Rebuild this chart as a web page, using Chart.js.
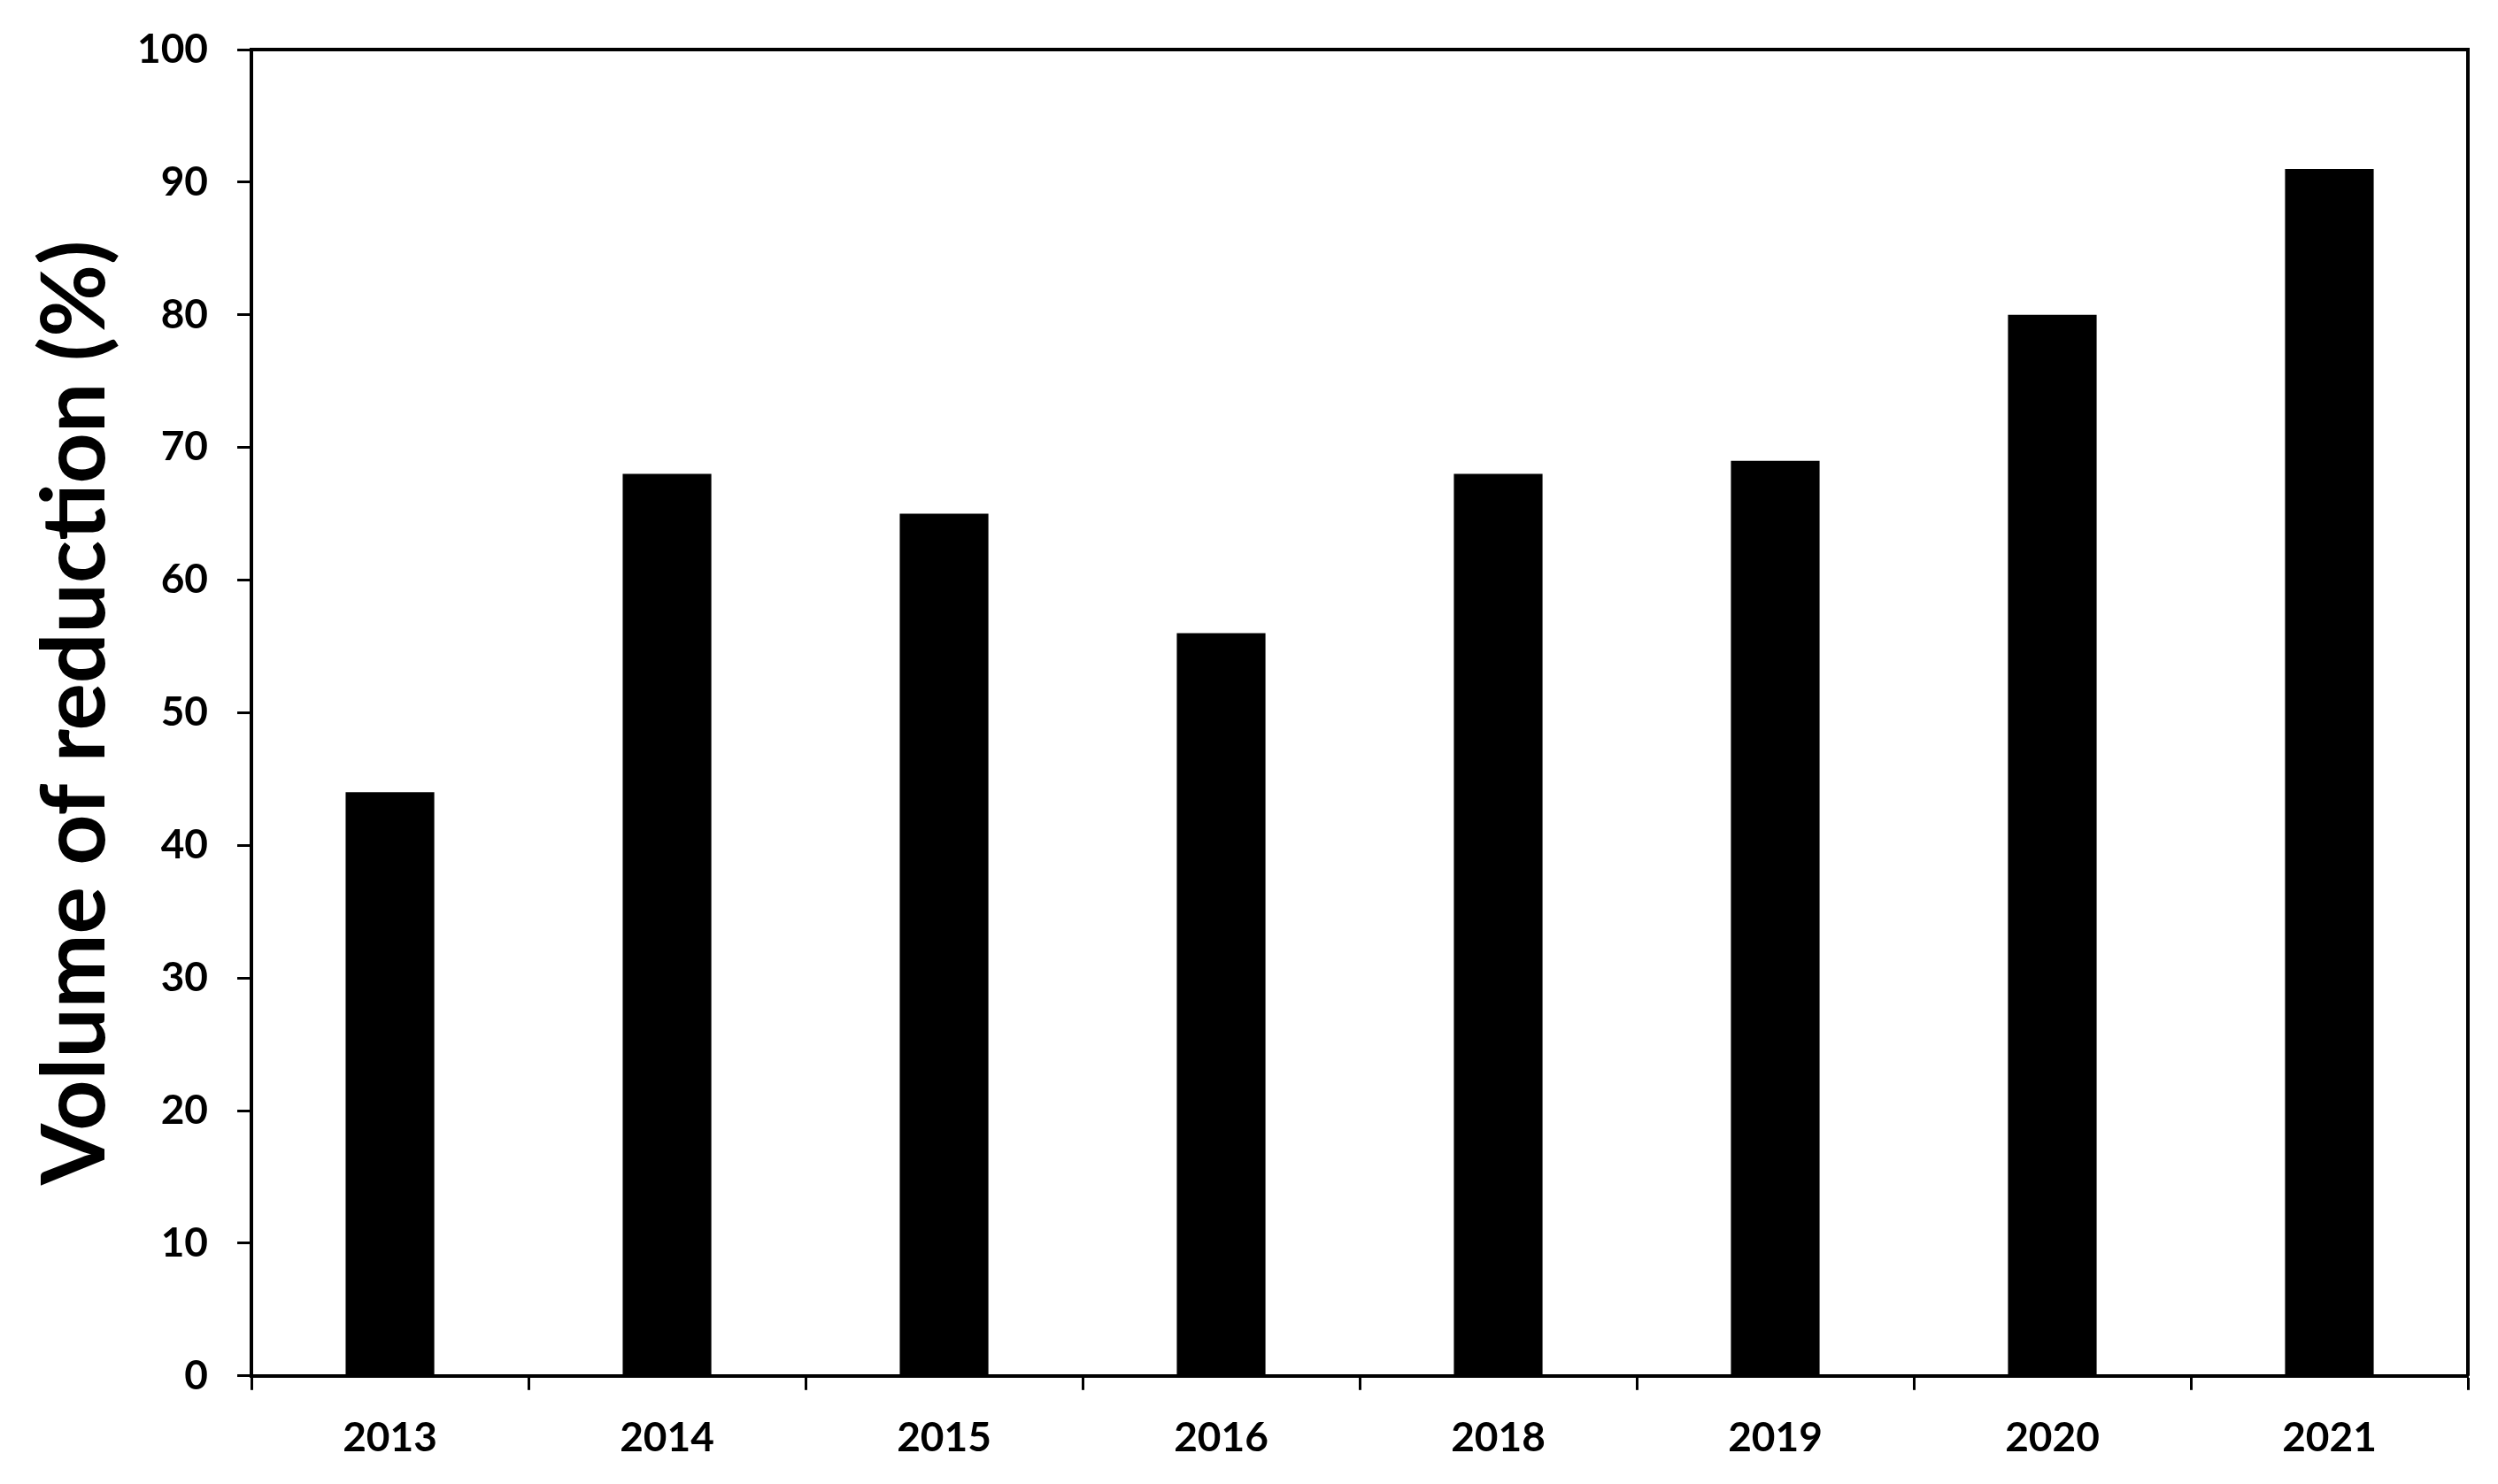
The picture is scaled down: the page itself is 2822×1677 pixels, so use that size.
<!DOCTYPE html>
<html>
<head>
<meta charset="utf-8">
<script src="https://cdn.jsdelivr.net/npm/chart.js@4"></script>
<style>
    html, body { margin: 0; padding: 0; background: #fff; }
    #wrap { width: 2822px; height: 1677px; }
</style>
</head>
<body>
<div id="wrap"><canvas id="dataChart"></canvas></div>
<script>
const years = ["2013", "2014", "2015", "2016", "2018", "2019", "2020", "2021"];
const reduction = [44, 68, 65, 56, 68, 69, 80, 91];
const yTicks = [0, 10, 20, 30, 40, 50, 60, 70, 80, 90, 100];

const FONT = "Lato, 'Liberation Sans', sans-serif";

// draws the top and right side of the plot box
const boxPlugin = {
    id: "box",
    afterDraw(chart) {
        const { ctx, chartArea } = chart;
        ctx.save();
        ctx.strokeStyle = "#000";
        ctx.lineWidth = 4;
        ctx.beginPath();
        ctx.moveTo(chartArea.left, chartArea.top);
        ctx.lineTo(chartArea.right, chartArea.top);
        ctx.lineTo(chartArea.right, chartArea.bottom);
        ctx.stroke();
        ctx.restore();
    }
};

const ctx = document.getElementById("dataChart").getContext("2d");

new Chart(ctx, {
    type: "bar",
    data: {
        labels: years,
        datasets: [{
            label: "Volume of reduction (%)",
            data: reduction,
            backgroundColor: "#000",
            borderWidth: 0,
            barPercentage: 0.32,
            categoryPercentage: 1.0
        }]
    },
    options: {
        responsive: true,
        maintainAspectRatio: false,
        animation: false,
        layout: { padding: { top: 30, right: 34, left: 10, bottom: -3 } },
        plugins: {
            legend: { display: false },
            tooltip: { enabled: false }
        },
        scales: {
            x: {
                grid: {
                    offset: true,
                    drawOnChartArea: false,
                    drawTicks: true,
                    tickLength: 16,
                    tickWidth: 3,
                    color: "#000"
                },
                border: { display: true, color: "#000", width: 4 },
                ticks: {
                    color: "#000",
                    padding: 27,
                    font: { family: FONT, size: 46, weight: "bold" }
                }
            },
            y: {
                min: 0,
                max: 100,
                afterBuildTicks(axis) {
                    axis.ticks = yTicks.map(v => ({ value: v }));
                },
                grid: {
                    drawOnChartArea: false,
                    drawTicks: true,
                    tickLength: 16,
                    tickWidth: 3,
                    color: "#000"
                },
                border: { display: true, color: "#000", width: 4 },
                ticks: {
                    color: "#000",
                    padding: 33,
                    font: { family: FONT, size: 46, weight: "bold", lineHeight: 1 }
                },
                title: {
                    display: true,
                    text: "Volume of reduction (%)",
                    color: "#000",
                    padding: { top: 26, bottom: -14 },
                    font: { family: FONT, size: 100, weight: "bold", lineHeight: 1 }
                }
            }
        }
    },
    plugins: [boxPlugin]
});
</script>
</body>
</html>
